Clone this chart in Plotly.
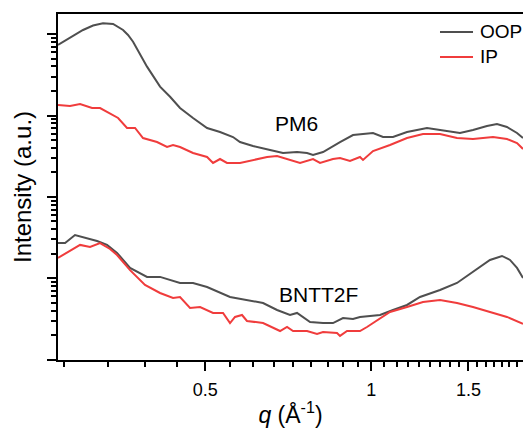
import numpy as np
import plotly.graph_objects as go

# ---- data (q in 1/Å, intensity in arbitrary units) ----
pm6_oop_q = [0.2706, 0.3004, 0.3132, 0.3265, 0.3405, 0.3550, 0.3624, 0.3701, 0.3923, 0.4142,
             0.4319, 0.4502, 0.4753, 0.5040, 0.5320, 0.5616, 0.5782, 0.6104, 0.6555, 0.6919,
             0.7336, 0.7648, 0.7842, 0.8176, 0.8776, 0.9265, 1.0071, 1.0501, 1.0947, 1.1606,
             1.2615, 1.3319, 1.4476, 1.5283, 1.6201, 1.6893, 1.7612, 1.8365, 1.8830]
pm6_oop_i = [735, 1123, 1276, 1357, 1331, 1123, 975, 806, 398, 226,
             170, 123.6, 93.2, 70.2, 62.7, 54.4, 47.2, 42.2, 37.7, 34.6,
             35.6, 34.6, 32.7, 35.6, 47.2, 57.6, 61.0, 54.4, 54.4, 62.7,
             70.2, 66.3, 61.0, 66.3, 74.3, 78.6, 72.2, 61.0, 52.9]

pm6_ip_q = [0.2706, 0.2845, 0.2967, 0.3119, 0.3225, 0.3362, 0.3477, 0.3609, 0.3732, 0.3858,
            0.4090, 0.4265, 0.4373, 0.4502, 0.4753, 0.5040, 0.5167, 0.5320, 0.5477, 0.5782,
            0.6104, 0.6474, 0.6749, 0.7036, 0.7428, 0.7842, 0.8074, 0.8523, 0.8776, 0.9149,
            0.9539, 0.9660, 1.0071, 1.0811, 1.1606, 1.2407, 1.3319, 1.4297, 1.5283, 1.6614,
            1.7612, 1.8365, 1.8830]
pm6_ip_i = [134.6, 130.8, 138.5, 123.6, 123.6, 104.3, 93.2, 70.2, 70.2, 52.9,
            47.2, 41.0, 43.4, 41.0, 34.6, 30.9, 26.1, 29.2, 26.1, 26.1,
            28.4, 30.9, 31.8, 29.2, 26.1, 29.2, 26.1, 29.2, 30.1, 27.6,
            30.9, 28.4, 36.6, 43.4, 52.9, 59.3, 59.3, 52.9, 51.4, 54.4,
            51.4, 45.9, 38.8]

bn_oop_q = [0.2706, 0.2787, 0.2905, 0.3055, 0.3185, 0.3320, 0.3462, 0.3655, 0.3923, 0.4142,
            0.4502, 0.4753, 0.5040, 0.5546, 0.5953, 0.6366, 0.6749, 0.7124, 0.7336, 0.7745,
            0.8176, 0.8523, 0.8887, 0.9265, 0.9539, 1.0371, 1.0947, 1.1606, 1.2252, 1.3319,
            1.4297, 1.5283, 1.6406, 1.7249, 1.7836, 1.8365, 1.8830]
bn_oop_i = [2.71, 2.71, 3.40, 3.13, 2.87, 2.57, 2.05, 1.34, 1.04, 1.04,
            0.876, 0.876, 0.782, 0.589, 0.541, 0.497, 0.408, 0.354, 0.375, 0.290,
            0.282, 0.282, 0.325, 0.316, 0.335, 0.354, 0.408, 0.470, 0.589, 0.718,
            0.876, 1.20, 1.68, 1.88, 1.68, 1.34, 1.01]

bn_ip_q = [0.2706, 0.2810, 0.2967, 0.3093, 0.3225, 0.3362, 0.3462, 0.3655, 0.3890, 0.4142,
           0.4373, 0.4502, 0.4694, 0.4895, 0.5167, 0.5387, 0.5546, 0.5663, 0.5831, 0.5953,
           0.6366, 0.6834, 0.7036, 0.7215, 0.7648, 0.7974, 0.8176, 0.8667, 0.8776, 0.9037,
           0.9539, 0.9822, 1.0071, 1.0811, 1.1606, 1.2407, 1.3319, 1.4297, 1.5283, 1.6406,
           1.7612, 1.8830]
bn_ip_i = [1.78, 2.05, 2.57, 2.42, 2.71, 2.29, 1.93, 1.26, 0.827, 0.660,
           0.573, 0.589, 0.432, 0.444, 0.375, 0.375, 0.282, 0.335, 0.354, 0.299,
           0.282, 0.225, 0.252, 0.225, 0.225, 0.207, 0.219, 0.213, 0.196, 0.225,
           0.225, 0.252, 0.282, 0.385, 0.444, 0.511, 0.541, 0.497, 0.444, 0.385,
           0.335, 0.275]

x_tick_vals = [0.5, 1, 1.5]
x_tick_text = ["0.5", "1", "1.5"]
x_range = [0.2706, 1.883]
y_range = [10 ** -1.004, 10 ** 3.247]

sample_labels = ["PM6", "BNTT2F"]
label_q = [0.7305, 0.8006]
label_i = [79.8, 0.641]

legend_names = ["OOP", "IP"]

GRAY = "#4f4f4f"
RED = "#f03c3c"
FONT = "Liberation Sans, Arial, sans-serif"

fig = go.Figure()
fig.add_trace(go.Scatter(x=pm6_oop_q, y=pm6_oop_i, mode="lines", name="PM6 OOP",
                         line=dict(color=GRAY, width=2)))
fig.add_trace(go.Scatter(x=pm6_ip_q, y=pm6_ip_i, mode="lines", name="PM6 IP",
                         line=dict(color=RED, width=2)))
fig.add_trace(go.Scatter(x=bn_oop_q, y=bn_oop_i, mode="lines", name="BNTT2F OOP",
                         line=dict(color=GRAY, width=2)))
fig.add_trace(go.Scatter(x=bn_ip_q, y=bn_ip_i, mode="lines", name="BNTT2F IP",
                         line=dict(color=RED, width=2)))

for t, q, i in zip(sample_labels, label_q, label_i):
    fig.add_annotation(x=np.log10(q), y=np.log10(i), text=t, showarrow=False,
                       font=dict(size=21, color="black", family=FONT))

# legend drawn as line samples + text, in plot-area (domain) coordinates
legend_y = [0.948, 0.876]
for name, col, ly in zip(legend_names, [GRAY, RED], legend_y):
    fig.add_shape(type="line", xref="x domain", yref="y domain",
                  x0=0.8215, x1=0.8925, y0=ly, y1=ly,
                  line=dict(color=col, width=2))
    fig.add_annotation(xref="x domain", yref="y domain", x=0.9032, y=ly,
                       xanchor="left", yanchor="middle", text=name, showarrow=False,
                       font=dict(size=19, color="black", family=FONT))

# minor ticks
x_minor = []
for k in range(1, 40):
    v = 0.5 * k / 9
    if x_range[0] <= v <= x_range[1] and abs(v * 2 - round(v * 2)) > 1e-6:
        x_minor.append(v)
y_minor = [m * 10 ** d for d in range(-1, 4) for m in range(2, 10)]

fig.update_xaxes(type="log", range=[np.log10(x_range[0]), np.log10(x_range[1])],
                 tickmode="array", tickvals=x_tick_vals, ticktext=x_tick_text,
                 ticks="outside", ticklen=9, tickwidth=1.6, tickcolor="black",
                 showline=True, linewidth=2, linecolor="black", mirror=True,
                 showgrid=False, zeroline=False, ticklabelstandoff=3,
                 tickfont=dict(size=18, color="black", family=FONT),
                 minor=dict(tickmode="array", tickvals=x_minor, ticks="outside",
                            ticklen=5, tickwidth=1.5, tickcolor="black", showgrid=False),
                 title=dict(text="<i>q</i> (Å<sup>-1</sup>)", standoff=9,
                            font=dict(size=23, color="black", family=FONT)))
fig.update_yaxes(type="log", range=[np.log10(y_range[0]), np.log10(y_range[1])],
                 tickmode="array", tickvals=[0.1, 1, 10, 100, 1000], showticklabels=False,
                 ticks="outside", ticklen=9, tickwidth=1.6, tickcolor="black",
                 showline=True, linewidth=2, linecolor="black", mirror=False,
                 showgrid=False, zeroline=False,
                 minor=dict(tickmode="array", tickvals=y_minor, ticks="outside",
                            ticklen=5, tickwidth=1.5, tickcolor="black", showgrid=False),
                 title=dict(text="Intensity (a.u.)", standoff=9,
                            font=dict(size=24, color="black", family=FONT)))

fig.update_layout(width=523, height=428, autosize=False,
                  margin=dict(l=58, r=0, t=14, b=68, pad=0),
                  paper_bgcolor="white", plot_bgcolor="white",
                  font=dict(family=FONT, color="black"),
                  showlegend=False)

fig.write_html("out.html")
